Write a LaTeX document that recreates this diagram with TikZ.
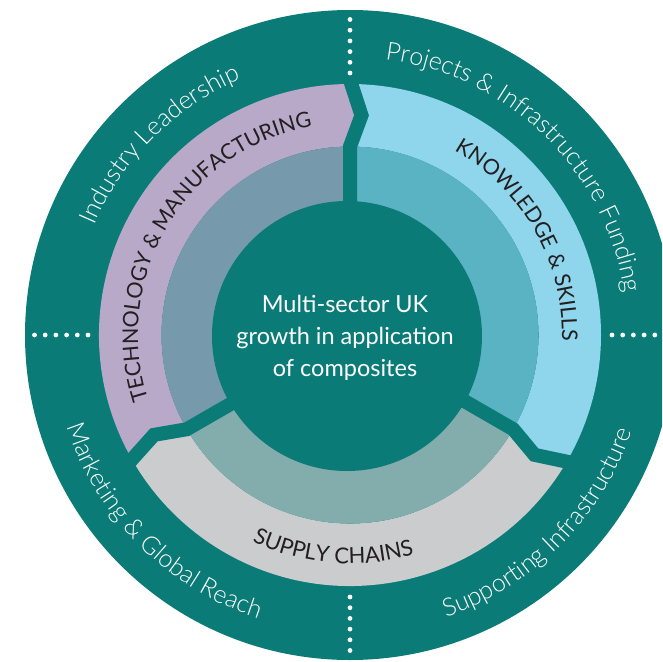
\documentclass[tikz,border=0pt]{standalone}
\usepackage{fontspec}
\setmainfont{Lato}
\newfontfamily\lightfont{Lato Light}
\usetikzlibrary{decorations.text}
\definecolor{tealbg}{HTML}{0A7B77}
\definecolor{purA}{HTML}{B8A9C9}
\definecolor{purB}{HTML}{7699AB}
\definecolor{bluA}{HTML}{8FD5EB}
\definecolor{bluB}{HTML}{5AB3C3}
\definecolor{gryA}{HTML}{CBCCCD}
\definecolor{gryB}{HTML}{82ADAC}
\definecolor{ink}{HTML}{231F20}
\newcommand\myOuterSeg[3]{%
  \fill[#1] (#3:251) arc[start angle=#3, end angle=#2, radius=251]
    -- ({#2-3}:220) -- (#2:188.5) arc[start angle=#2, end angle=#3, radius=188.5]
    -- ({#3-3}:220) -- cycle;}
\newcommand\myInnerSeg[3]{%
  \fill[#1] (#3:188.5) arc[start angle=#3, end angle=#2, radius=188.5]
    -- (#2:128) arc[start angle=#2, end angle=#3, radius=128] -- cycle;}
\begin{document}
\begin{tikzpicture}[x=1pt,y=1pt,
  gapline/.style={draw=tealbg, line width=14pt, line join=miter, miter limit=10},
  dotmark/.style={fill=white},
  outerlabel/.style={decorate, decoration={text along path, text align=center, text color=white,
     text={|\lightfont\fontsize{25}{28}\selectfont|#1}}},
  innerlabel/.style 2 args={decorate, decoration={text along path, text align=center, text color=ink,
     text={|\fontsize{#1}{24}\selectfont|#2}}}
]
\useasboundingbox (0,0) rectangle (662,-662);
\clip (0,0) rectangle (662,-662);
\fill[white] (0,0) rectangle (662,-662);
\begin{scope}[shift={(350,-335)}]
  \fill[tealbg] (0,0) circle[radius=325];
  % outer coloured band
  \myOuterSeg{purA}{90}{210}
  \myOuterSeg{bluA}{-30}{90}
  \myOuterSeg{gryA}{210}{330}
  % inner band
  \myInnerSeg{purB}{90}{210}
  \myInnerSeg{bluB}{-30}{90}
  \myInnerSeg{gryB}{210}{330}
  % hub
  \fill[tealbg] (-3,-1) circle[radius=135];
  % gaps
  \foreach \t in {90,210,-30}{
    \draw[gapline] (\t:120) -- (\t:188.5) -- ({\t-3}:220) -- (\t:255);
  }
  % dotted separators
  \foreach \p in {0,90,180,270}{
    \foreach \k in {0,...,5}{
      \fill[dotmark] (\p:{262+10.7*\k}) circle[radius=2.4];
    }
  }
  % outer labels
  \path[outerlabel={Industry Leadership}] (195:278) arc[start angle=195, end angle=75, radius=278];
  \path[outerlabel={Projects {\&} Infrastructure Funding}] (105.7:278) arc[start angle=105.7, end angle=-14.3, radius=278];
  \path[outerlabel={Marketing {\&} Global Reach}] (165:298) arc[start angle=165, end angle=285, radius=298];
  \path[outerlabel={Supporting Infrastructure}] (255:298) arc[start angle=255, end angle=375, radius=298];
  % inner labels
  \path[innerlabel={21.5}{TECHNOLOGY {\&} MANUFACTURING}] (209:212) arc[start angle=209, end angle=89, radius=212];
  \path[innerlabel={21.5}{KNOWLEDGE {\&} SKILLS}] (89.5:212) arc[start angle=89.5, end angle=-30.5, radius=212];
  \path[innerlabel={22}{SUPPLY CHAINS}] (205.5:228.5) arc[start angle=205.5, end angle=325.5, radius=228.5];
  % centre text
  \node[text=white, align=center, font=\fontsize{23.5}{32}\selectfont] (hub) at (-5,-3)
    {Multi-sector UK\\growth in application\\of composites};
\end{scope}
\end{tikzpicture}
\end{document}
